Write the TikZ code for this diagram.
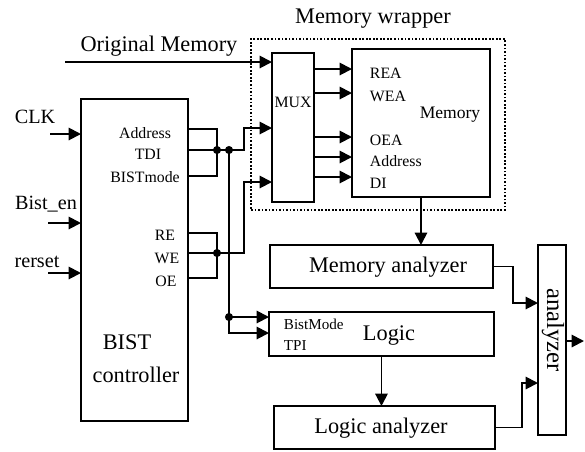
\documentclass[tikz,border=0pt]{standalone}
\usepackage{fontspec}
\setmainfont{Liberation Serif}
\usetikzlibrary{arrows.meta}

\begin{document}
\begin{tikzpicture}[x=0.02cm,y=-0.02cm,line width=1.1pt,
  blk/.style={draw,inner sep=0pt,outer sep=0pt,anchor=north west},
  sig/.style={-{Triangle[length=7pt,width=7pt]}},
  dot/.style={circle,fill,inner sep=0pt,minimum size=4.6pt},
  big/.style={font=\fontsize{12.7}{14}\selectfont,inner sep=0pt},
  pin/.style={font=\fontsize{11.5}{13}\selectfont,inner sep=0pt},
  sml/.style={font=\fontsize{9}{10}\selectfont,inner sep=0pt},
  tny/.style={font=\fontsize{8.6}{10}\selectfont,inner sep=0pt,anchor=west}]
% Parameters
\def\yAddr{129} \def\yTDI{150} \def\yBm{176}
\def\yRE{233} \def\yWE{253} \def\yOE{278}
\useasboundingbox (0,0) rectangle (585,451);

% Blocks
\node[blk,dash pattern=on 1pt off 1pt,minimum width=5.08cm,minimum height=3.42cm] (wrap) at (251,39) {};
\node[blk,minimum width=2.14cm,minimum height=6.44cm] (bist) at (81,99) {};
\node[blk,minimum width=0.84cm,minimum height=2.98cm] (mux) at (272,53) {};
\node[blk,minimum width=2.76cm,minimum height=2.96cm] (mem) at (352,49) {};
\node[blk,minimum width=4.46cm,minimum height=0.86cm] (memana) at (270,245) {};
\node[blk,minimum width=4.5cm,minimum height=0.88cm] (logic) at (269,312) {};
\node[blk,minimum width=4.42cm,minimum height=0.86cm] (logana) at (274,406) {};
\node[blk,minimum width=0.56cm,minimum height=3.8cm] (ana) at (538,245) {};

% Labels
\node[big] (origL) at (159,46) {Original Memory};
\node[big] (wrapL) at (373,19) {Memory wrapper};
\node[pin] (clkL) at (35,117) {CLK};
\node[pin] (enL) at (46,204) {Bist\_en};
\node[pin] (rstL) at (37,262) {rerset};
\node[sml] (addrL) at (145,133) {Address};
\node[sml] (tdiL) at (148,154) {TDI};
\node[sml] (bmL) at (145,177) {BISTmode};
\node[sml] (reL) at (165,235) {RE};
\node[sml] (weL) at (167,258) {WE};
\node[sml] (oeL) at (166,281) {OE};
\node[big] (bistL) at (127,342) {BIST};
\node[big] (ctrlL) at (136,375) {controller};
\node[sml] (muxL) at (293,102) {MUX};
\node[sml,anchor=west] (reaL) at (369,73) {REA};
\node[sml,anchor=west] (weaL) at (369,96) {WEA};
\node[sml,anchor=west] (oeaL) at (369,140) {OEA};
\node[sml,anchor=west] (maddrL) at (369,161) {Address};
\node[sml,anchor=west] (diL) at (369,183) {DI};
\node[font=\fontsize{10}{12}\selectfont,inner sep=0pt] (memL) at (450,115) {Memory};
\node[big] (memanaL) at (388,267) {Memory analyzer};
\node[tny] (bmodeL) at (283,324) {BistMode};
\node[tny] (tpiL) at (283,346) {TPI};
\node[big] (logicL) at (389,336) {Logic};
\node[big] (loganaL) at (381,428) {Logic analyzer};
\node[font=\fontsize{14}{16}\selectfont,inner sep=0pt,rotate=-90] (anaL) at (553,330) {analyzer};

% Inputs
\coordinate (clkIn) at (50,134);
\coordinate (enIn) at (48,223);
\coordinate (rstIn) at (48,273);
\coordinate (origIn) at (65,62);
\draw[sig] (clkIn) -- (bist.west |- clkIn);
\draw[sig] (enIn) -- (bist.west |- enIn);
\draw[sig] (rstIn) -- (bist.west |- rstIn);
\draw[sig] (origIn) -- (mux.west |- origIn);

% Address / TDI / BISTmode
\coordinate (busA) at (217,\yTDI);
\coordinate (tapA) at (229,\yTDI);
\draw (bist.east |- 0,\yAddr) -| (busA) |- (bist.east |- 0,\yBm);
\draw (bist.east |- busA) -- (busA);
\draw[sig] (busA) -- (244,\yTDI) |- (mux.west |- 0,128);
\node[dot] (dA) at (busA) {};
\node[dot] (dT) at (tapA) {};

% RE / WE / OE
\coordinate (busB) at (217,\yWE);
\draw (bist.east |- 0,\yRE) -| (busB) |- (bist.east |- 0,\yOE);
\draw (bist.east |- busB) -- (busB);
\draw[sig] (busB) -- (244,\yWE) |- (mux.west |- 0,182);
\node[dot] (dB) at (busB) {};

% Logic inputs
\coordinate (tapL) at (229,317);
\draw[sig] (tapA) -- (tapL) -- (logic.west |- tapL);
\draw[sig] (tapL) |- (logic.west |- 0,333);
\node[dot] (dL) at (tapL) {};

% MUX to memory
\foreach \y in {69,93,137,157,177}
  \draw[sig] (mux.east |- 0,\y) -- (mem.west |- 0,\y);

% Analyzers
\coordinate (anaOut) at (584,341);
\draw[sig] (mem.south) -- (mem.south |- memana.north);
\draw[sig] (logic.south) -- (logic.south |- logana.north);
\draw[sig] (memana.east) -| (513,303) -- (ana.west |- 0,303);
\draw[sig] (logana.east) -| (522,383) -- (ana.west |- 0,383);
\draw[sig] (ana.east |- anaOut) -- (anaOut);
\end{tikzpicture}
\end{document}
